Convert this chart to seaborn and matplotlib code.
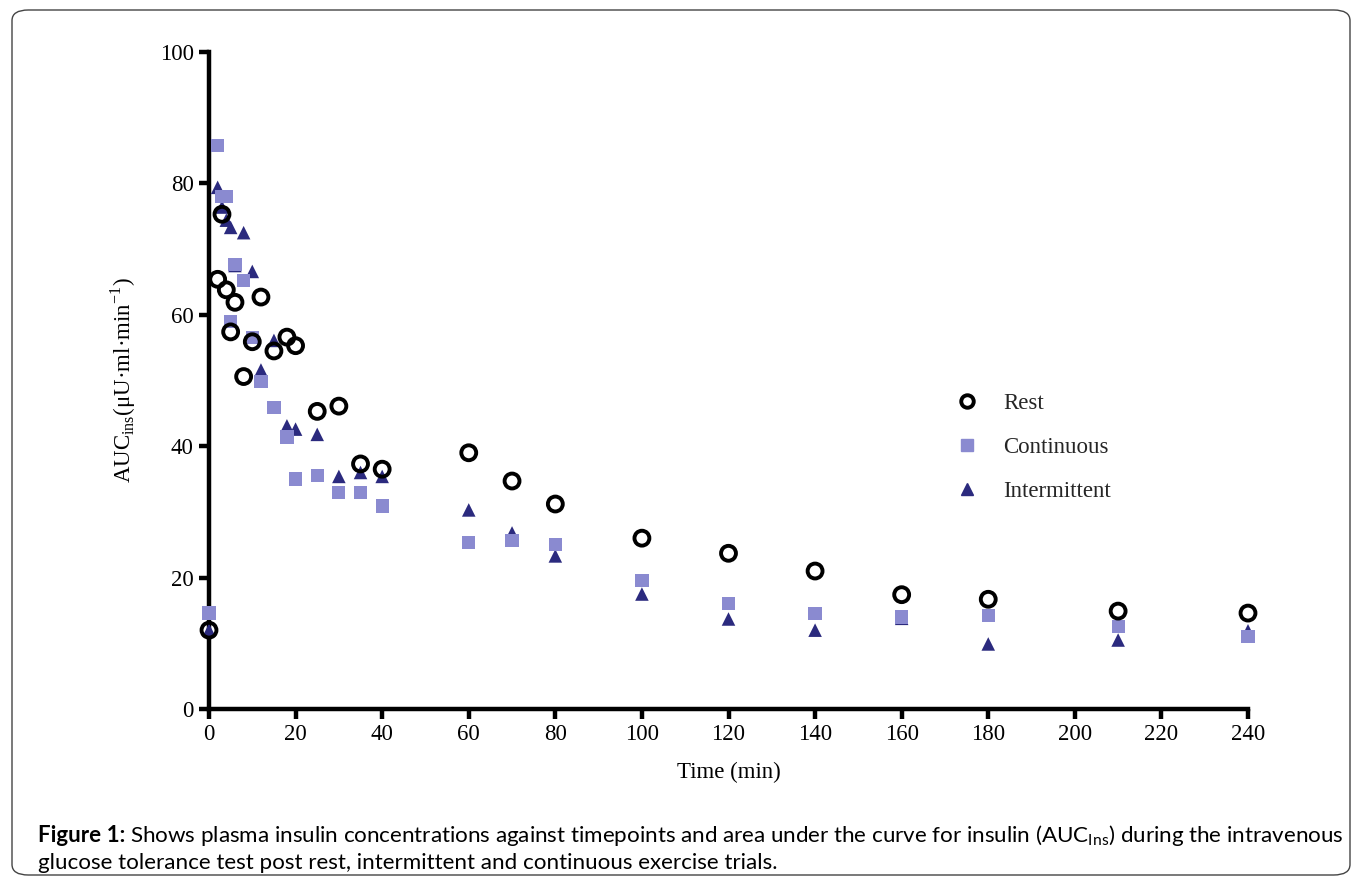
import matplotlib
matplotlib.use("Agg")
import matplotlib.pyplot as plt
from matplotlib.lines import Line2D
from matplotlib.patches import FancyBboxPatch
import seaborn as sns
import pandas as pd

# time points (min)
rest_t = [0, 2, 3, 4, 5, 6, 8, 10, 12, 15, 18, 20, 25, 30, 35, 40,
          60, 70, 80, 100, 120, 140, 160, 180, 210, 240]
rest_v = [12.0, 65.4, 75.3, 63.8, 57.4, 61.9, 50.6, 55.9, 62.7, 54.5, 56.6, 55.3, 45.3, 46.1, 37.3, 36.5,
          39.0, 34.7, 31.2, 26.0, 23.7, 21.0, 17.4, 16.7, 14.9, 14.6]

cont_t = [0, 2, 3, 4, 5, 6, 8, 10, 12, 15, 18, 20, 25, 30, 35, 40,
          60, 70, 80, 100, 120, 140, 160, 180, 210, 240]
cont_v = [14.6, 85.8, 78.0, 78.0, 59.0, 67.7, 65.2, 56.6, 49.8, 45.9, 41.4, 35.0, 35.5, 33.0, 33.0, 30.9,
          25.3, 25.7, 25.1, 19.5, 16.1, 14.5, 14.0, 14.2, 12.5, 11.0]

int_t = [0, 2, 3, 4, 5, 6, 8, 10, 12, 15, 18, 20, 25, 30, 35, 40,
         60, 70, 80, 100, 120, 140, 160, 180, 210, 240]
int_v = [12.0, 79.4, 76.4, 74.4, 73.3, 67.5, 72.5, 66.6, 51.6, 56.1, 43.1, 42.6, 41.8, 35.4, 36.0, 35.4,
         30.3, 26.8, 23.3, 17.5, 13.7, 12.0, 13.8, 9.9, 10.5, 11.9]

x_ticks = list(range(0, 241, 20))
y_ticks = list(range(0, 101, 20))

sns.set_style("ticks")
plt.rcParams["font.family"] = ["Liberation Serif", "DejaVu Serif"]
plt.rcParams["mathtext.fontset"] = "custom"
plt.rcParams["mathtext.rm"] = "Liberation Serif"
plt.rcParams["mathtext.sf"] = "Lato"

CONT_COLOR = "#8a8ad0"
INT_COLOR = "#2b2a7e"

rest = pd.DataFrame({"time": rest_t, "auc": rest_v})
cont = pd.DataFrame({"time": cont_t, "auc": cont_v})
inter = pd.DataFrame({"time": int_t, "auc": int_v})

fig = plt.figure(figsize=(13.62, 8.81), dpi=100)
ax = fig.add_axes([209 / 1362, 1 - 709 / 881, (1248 - 209) / 1362, (709 - 52) / 881])

sns.scatterplot(data=inter, x="time", y="auc", ax=ax, marker="^", s=95,
                color=INT_COLOR, edgecolor="none", clip_on=False, zorder=3)
sns.scatterplot(data=cont, x="time", y="auc", ax=ax, marker="s", s=90,
                color=CONT_COLOR, edgecolor="none", clip_on=False, zorder=4)
sns.scatterplot(data=rest, x="time", y="auc", ax=ax, marker="o", s=115,
                facecolor="none", edgecolor="black", linewidth=2.8, clip_on=False, zorder=5)

ax.set_xlim(0, 240)
ax.set_ylim(0, 100)
ax.set_xticks(x_ticks)
ax.set_yticks(y_ticks)
sns.despine(ax=ax)
for side in ["left", "bottom"]:
    ax.spines[side].set_linewidth(3.2)
    ax.spines[side].set_color("black")
ax.tick_params(axis="both", length=7, width=3.2, labelsize=16.5, pad=4,
               color="black", labelcolor="black")

ax.set_xlabel("Time (min)", fontsize=16.5, labelpad=12, color="black")
ax.set_ylabel(r"AUC$_{\mathrm{ins}}$(μU·ml·min$^{\mathrm{-1}}$)", fontsize=16.5, labelpad=16, color="black")

handles = [
    Line2D([], [], marker="o", linestyle="none", markersize=9, markerfacecolor="none",
           markeredgecolor="black", markeredgewidth=2.8, label="Rest"),
    Line2D([], [], marker="s", linestyle="none", markersize=8, color=CONT_COLOR, label="Continuous"),
    Line2D([], [], marker="^", linestyle="none", markersize=8, color=INT_COLOR, label="Intermittent"),
]
ax.legend(handles=handles, loc="upper left", bbox_to_anchor=(933 / 1362, 1 - 382 / 881),
          bbox_transform=fig.transFigure, frameon=False, fontsize=16.5,
          handletextpad=0.55, labelspacing=1.0, borderpad=0)

# rounded border around the figure
fig.patches.append(FancyBboxPatch((12 / 1362, 6 / 881), 1338 / 1362, 865 / 881,
                                  boxstyle="round,pad=0,rounding_size=0.012",
                                  transform=fig.transFigure, fill=False,
                                  edgecolor="#444444", linewidth=1.0))

cap_kw = dict(fontsize=16.1, family="Lato", ha="left", va="baseline", color="black")
y1 = 1 - 842 / 881
lead = fig.text(38 / 1362, y1, "Figure 1:", fontweight="bold", **cap_kw)
fig.canvas.draw()
bb = lead.get_window_extent()
fig.text((bb.x1 + 5) / 1362, y1,
         r"Shows plasma insulin concentrations against timepoints and area under the curve "
         r"for insulin (AUC$_{\mathsf{Ins}}$) during the intravenous", **cap_kw)
fig.text(38 / 1362, 1 - 869 / 881,
         "glucose tolerance test post rest, intermittent and continuous exercise trials.", **cap_kw)

fig.savefig("out.png", dpi=100)
